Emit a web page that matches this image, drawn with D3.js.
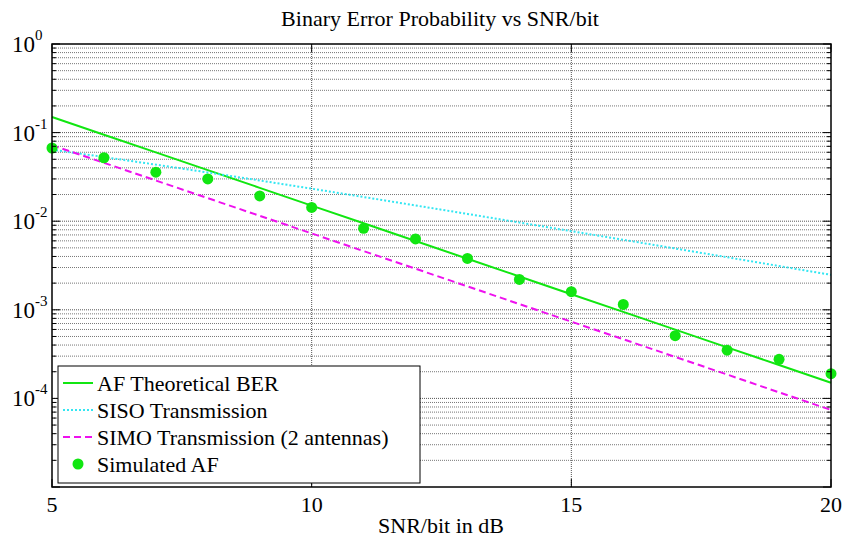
<!DOCTYPE html>
<html>
<head>
<meta charset="utf-8">
<script src="https://cdn.jsdelivr.net/npm/d3@7"></script>
</head>
<body style="margin:0">
<svg width="845" height="539"></svg>
<script>
let snr = [5, 6, 7, 8, 9, 10, 11, 12, 13, 14, 15, 16, 17, 18, 19, 20];
let afTheory = [0.150, 0.0947, 0.0598, 0.0377, 0.0238, 0.0150, 0.00947, 0.00598,
  0.00377, 0.00238, 0.00150, 0.000947, 0.000598, 0.000377, 0.000238, 0.000150];
let siso = [0.0642, 0.0530, 0.0435, 0.0355, 0.0288, 0.0233, 0.01875, 0.01506,
  0.01208, 0.00967, 0.00772, 0.00617, 0.00492, 0.00392, 0.00312, 0.00248];
let simo = [0.0721, 0.0456, 0.0288, 0.0182, 0.0115, 0.00728, 0.00460, 0.00291,
  0.00184, 0.00116, 0.000734, 0.000465, 0.000294, 0.000186, 0.000117, 0.0000741];
let afSim = [0.067, 0.052, 0.0358, 0.030, 0.0193, 0.0143, 0.0083, 0.0063,
  0.0038, 0.0022, 0.0016, 0.00115, 0.00051, 0.00035, 0.000276, 0.00019];
let xTicks = [5, 10, 15, 20];
let yDecades = [0, -1, -2, -3, -4];
let legendNames = ["AF Theoretical BER", "SISO Transmission", "SIMO Transmission (2 antennas)", "Simulated AF"];

const FONT = '"Liberation Serif"';

let svg = d3.select("svg"),
    pl = 52, pr = 831, pt = 44, pb = 487;

let x = d3.scaleLinear().domain([5, 20]).range([pl, pr]);
let y = d3.scaleLog().domain([1e-5, 1]).range([pb, pt]);

// grid
let minors = [];
for (let e = -5; e < 0; e++) for (let m = 2; m <= 9; m++) minors.push(m * Math.pow(10, e));
let majors = yDecades.concat([-5]).map(e => Math.pow(10, e));

let grid = svg.append("g");
grid.selectAll("line.minor").data(minors).join("line")
  .attr("x1", pl).attr("x2", pr)
  .attr("y1", d => y(d)).attr("y2", d => y(d))
  .attr("stroke", "#777").attr("stroke-dasharray", "1,1").attr("stroke-width", 1);
grid.selectAll("line.major").data(majors.slice(1, 5)).join("line")
  .attr("x1", pl).attr("x2", pr)
  .attr("y1", d => y(d)).attr("y2", d => y(d))
  .attr("stroke", "#555").attr("stroke-dasharray", "1,1").attr("stroke-width", 1);
grid.selectAll("line.vx").data([10, 15]).join("line")
  .attr("x1", d => x(d)).attr("x2", d => x(d))
  .attr("y1", pt).attr("y2", pb)
  .attr("stroke", "#555").attr("stroke-dasharray", "1,1").attr("stroke-width", 1);

// curves
let line = d3.line().x((d, i) => x(snr[i])).y(d => y(d));
svg.append("path").datum(afTheory).attr("d", line)
  .attr("fill", "none").attr("stroke", "#11e611").attr("stroke-width", 2);
svg.append("path").datum(siso).attr("d", line)
  .attr("fill", "none").attr("stroke", "#33e6f2").attr("stroke-width", 2)
  .attr("stroke-dasharray", "2,2");
svg.append("path").datum(simo).attr("d", line)
  .attr("fill", "none").attr("stroke", "#ee11ee").attr("stroke-width", 2)
  .attr("stroke-dasharray", "7,4");
svg.append("g").selectAll("circle").data(afSim).join("circle")
  .attr("cx", (d, i) => x(snr[i])).attr("cy", d => y(d)).attr("r", 5.5)
  .attr("fill", "#11e611");

// axes box + ticks
svg.append("rect").attr("x", pl).attr("y", pt)
  .attr("width", pr - pl).attr("height", pb - pt)
  .attr("fill", "none").attr("stroke", "#000").attr("stroke-width", 1.5);

let ticks = svg.append("g").attr("stroke", "#000").attr("stroke-width", 1);
[[pl, 1], [pr, -1]].forEach(([x0, s]) => {
  ticks.append("g").selectAll("line").data(minors).join("line")
    .attr("x1", x0).attr("x2", x0 + s * 4)
    .attr("y1", d => y(d)).attr("y2", d => y(d));
  ticks.append("g").selectAll("line").data(majors).join("line")
    .attr("x1", x0).attr("x2", x0 + s * 8)
    .attr("y1", d => y(d)).attr("y2", d => y(d));
});
[[pb, -1], [pt, 1]].forEach(([y0, s]) => {
  ticks.append("g").selectAll("line").data(xTicks).join("line")
    .attr("x1", d => x(d)).attr("x2", d => x(d))
    .attr("y1", y0).attr("y2", y0 + s * 8);
});

// legend box and samples
let legend = svg.append("g");
legend.append("rect").attr("x", 58).attr("y", 366).attr("width", 362).attr("height", 117)
  .attr("fill", "#fff").attr("stroke", "#000").attr("stroke-width", 1);
let styles = [
  {c: "#11e611", d: null},
  {c: "#33e6f2", d: "2,2"},
  {c: "#ee11ee", d: "7,4"},
  {c: "#11e611", dot: true}
];
styles.forEach((st, i) => {
  let ly = 383 + i * 27;
  if (st.dot) {
    legend.append("circle").attr("cx", 78).attr("cy", ly).attr("r", 5.5).attr("fill", st.c);
  } else {
    legend.append("line").attr("x1", 63).attr("x2", 93).attr("y1", ly).attr("y2", ly)
      .attr("stroke", st.c).attr("stroke-width", 2)
      .attr("stroke-dasharray", st.d);
  }
});

// all texts as direct children of the svg
svg.selectAll("text.xt").data(xTicks).join("text")
  .attr("class", "xt")
  .attr("x", d => x(d)).attr("y", 512).attr("text-anchor", "middle")
  .attr("font-size", 22)
  .style("font-family", FONT)
  .text(d => d);

let yl = svg.selectAll("text.yt").data(yDecades).join("text")
  .attr("class", "yt")
  .attr("x", 12).attr("y", d => y(Math.pow(10, d)) + 8)
  .attr("font-size", 23)
  .style("font-family", FONT);
yl.append("tspan").text("10");
yl.append("tspan").attr("dy", -12).attr("font-size", 15).text(d => d);

svg.append("text").attr("x", 440).attr("y", 26).attr("text-anchor", "middle")
  .attr("font-size", 22).style("font-family", FONT)
  .text("Binary Error Probability vs SNR/bit");
svg.append("text").attr("x", 441).attr("y", 533).attr("text-anchor", "middle")
  .attr("font-size", 22).style("font-family", FONT)
  .text("SNR/bit in dB");

svg.selectAll("text.lg").data(legendNames).join("text")
  .attr("class", "lg")
  .attr("x", 97).attr("y", (d, i) => 391 + i * 27)
  .attr("font-size", 22).style("font-family", FONT)
  .text(d => d);
</script>
</body>
</html>
